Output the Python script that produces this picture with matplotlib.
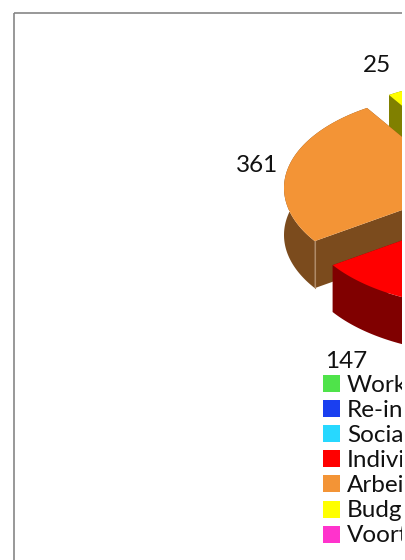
import numpy as np
import matplotlib
matplotlib.use("Agg")
import matplotlib.pyplot as plt
from matplotlib.patches import Polygon, Rectangle

plt.rcParams['font.family'] = ['Lato', 'DejaVu Sans']

# values readable in the picture (rest of the pie is cut off by the crop)
slice_values = [147, 361, 25]
pie_total = 1422
legend_names = ["Work", "Re-in", "Socia", "Indivi", "Arbei", "Budg", "Voort"]
legend_colors = ["#4fe34a", "#1a3ff0", "#27d8ff", "#ff0000", "#f39436", "#ffff00", "#ff33cc"]

# slice styles
top_colors = ["#ff0000", "#f39436", "#ffff00"]
side_colors = ["#800000", "#7b4b1d", "#808000"]
centers = [(482, 212), (464, 188), (486, 175)]
label_pos = [(346, 361), (257, 166), (377, 65)]

rx = 180
ry = 95
depth = 47
start_angle = 214  # orange edge, red goes counter clockwise from here

fig = plt.figure(figsize=(4.05, 5.6), dpi=100)
ax = fig.add_axes([0, 0, 1, 1])
ax.set_xlim(0, 405)
ax.set_ylim(560, 0)
ax.axis("off")

ax.add_patch(Rectangle((13.5, 12.5), 500, 600, fill=False, ec="#868686", lw=1.2))


def arc(center, a0, a1):
    t = np.radians(np.linspace(a0, a1, 120))
    return np.column_stack([center[0] + rx * np.cos(t), center[1] - ry * np.sin(t)])


spans = [v / pie_total * 360 for v in slice_values]
angles = [
    (start_angle, start_angle + spans[0]),
    (start_angle - spans[1], start_angle),
    (start_angle - spans[1] - spans[2], start_angle - spans[1]),
]

# back to front
for i in [2, 1, 0]:
    c = centers[i]
    a0, a1 = angles[i]
    pts = arc(c, a0, a1)
    down = pts + [0, depth]
    ax.add_patch(Polygon(np.vstack([pts, down[::-1]]), fc=side_colors[i], ec="none"))
    # cut faces
    for edge in (pts[0], pts[-1]):
        quad = [edge, c, (c[0], c[1] + depth), (edge[0], edge[1] + depth)]
        ax.add_patch(Polygon(quad, fc=side_colors[i], ec="none"))
    ax.add_patch(Polygon(np.vstack([[c], pts]), fc=top_colors[i], ec="none"))
    if i == 1:
        # light seam on the corner of the orange slice
        ax.plot([pts[-1][0]] * 2, [pts[-1][1], pts[-1][1] + depth], color="#b08a66", lw=0.8)

for v, p in zip(slice_values, label_pos):
    ax.text(p[0], p[1], str(v), fontsize=17.5, ha="center", va="center", color="#111111")

for i in range(len(legend_names)):
    y = 375 + i * 25.1
    ax.add_patch(Rectangle((323, y), 17, 17, fc=legend_colors[i], ec="none"))
    ax.text(347, y + 10, legend_names[i], fontsize=17.5, ha="left", va="center", color="#111111")

# picture stops a little before the right edge
ax.add_patch(Rectangle((402, 0), 10, 560, fc="white", ec="none", zorder=10))

fig.savefig("out.png", dpi=100)
